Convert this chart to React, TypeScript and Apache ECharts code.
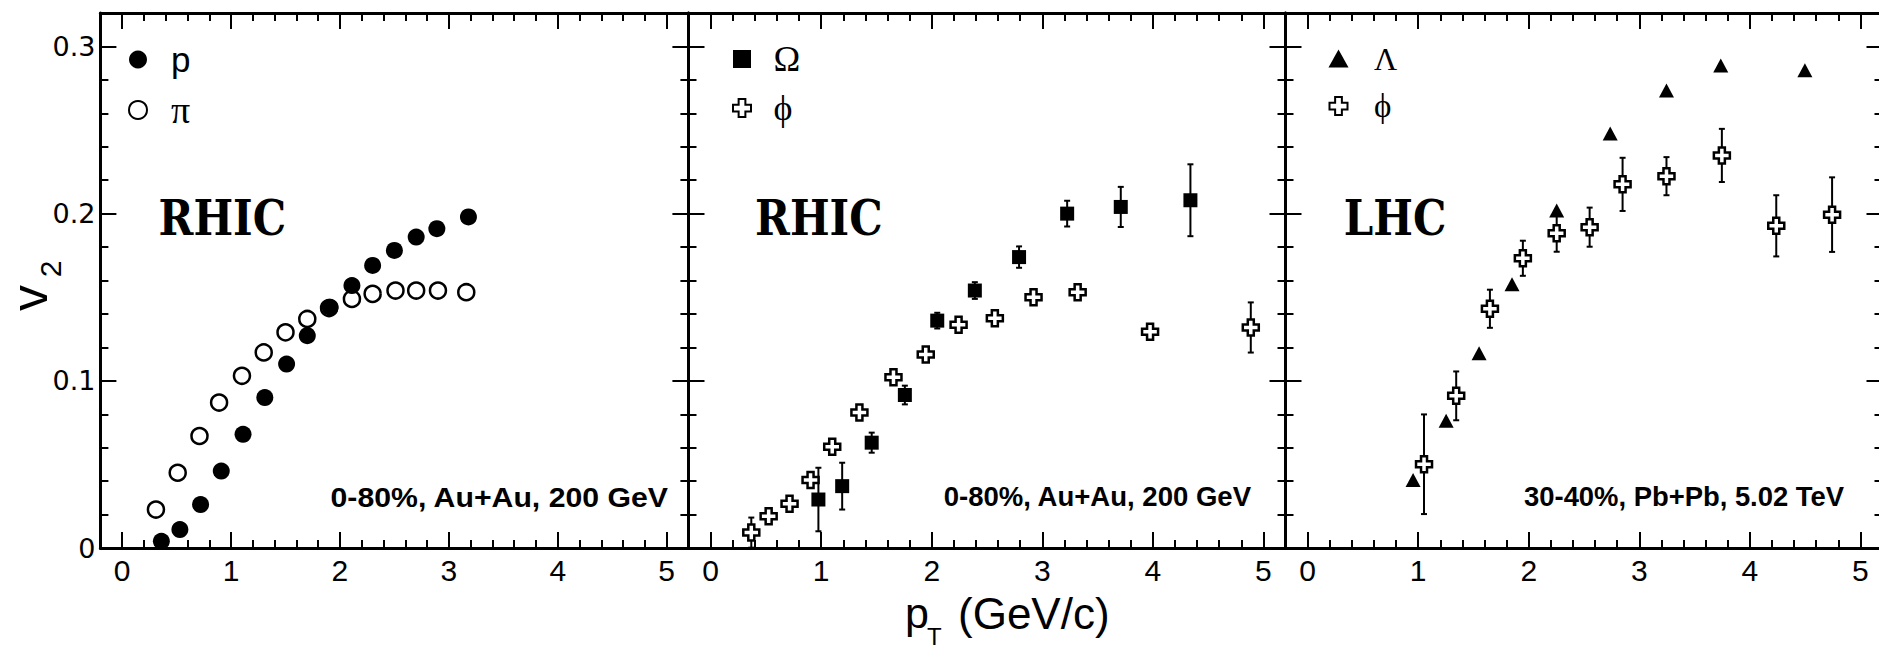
import React, { useEffect, useRef } from "react";
import * as echarts from "echarts";

// ---------- data ----------
// Panel 1 (RHIC): proton and pion v2
const pX = [0.36, 0.53, 0.72, 0.91, 1.11, 1.31, 1.51, 1.70, 1.91, 2.11, 2.30, 2.50, 2.70, 2.89, 3.18];
const pV = [0.004, 0.011, 0.026, 0.046, 0.068, 0.090, 0.110, 0.127, 0.144, 0.157, 0.169, 0.178, 0.186, 0.191, 0.198];
const piX = [0.31, 0.51, 0.71, 0.89, 1.10, 1.30, 1.50, 1.70, 1.90, 2.11, 2.30, 2.51, 2.70, 2.90, 3.16];
const piV = [0.023, 0.045, 0.067, 0.087, 0.103, 0.117, 0.129, 0.137, 0.1435, 0.149, 0.152, 0.154, 0.154, 0.154, 0.153];

// Panel 2 (RHIC): Omega and phi
const omegaX = [0.975, 1.19, 1.457, 1.757, 2.05, 2.39, 2.79, 3.225, 3.71, 4.34];
const omegaV = [0.029, 0.037, 0.063, 0.0915, 0.136, 0.154, 0.174, 0.200, 0.204, 0.208];
const omegaErr = [0.019, 0.014, 0.006, 0.0056, 0.0047, 0.005, 0.0064, 0.0077, 0.012, 0.0215];
const phiRX = [0.368, 0.525, 0.714, 0.904, 1.10, 1.346, 1.654, 1.946, 2.243, 2.571, 2.921, 3.32, 3.975, 4.886];
const phiRV = [0.0092, 0.019, 0.0265, 0.0407, 0.0605, 0.0811, 0.1022, 0.1158, 0.1336, 0.1374, 0.150, 0.153, 0.1294, 0.1319];
const phiRErr = [0.009, 0.004, 0.004, 0.004, 0.004, 0.004, 0.004, 0.004, 0.004, 0.004, 0.004, 0.004, 0.004, 0.015];

// Panel 3 (LHC): Lambda and phi
const lamX = [0.954, 1.253, 1.551, 1.849, 2.253, 2.737, 3.246, 3.737, 4.498];
const lamV = [0.0407, 0.0761, 0.1165, 0.1577, 0.2018, 0.248, 0.2737, 0.2886, 0.2857];
const phiLX = [1.053, 1.344, 1.649, 1.947, 2.253, 2.551, 2.849, 3.246, 3.747, 4.239, 4.744];
const phiLV = [0.0501, 0.091, 0.1431, 0.1733, 0.1882, 0.1919, 0.2175, 0.2224, 0.2348, 0.1927, 0.1994];
const phiLErr = [0.0298, 0.0146, 0.0114, 0.0105, 0.011, 0.0117, 0.0159, 0.0114, 0.0159, 0.0183, 0.0223];

// axes
const xMin = -0.2;
const xMax = 5.2;
const yMin = 0;
const yMax = 0.32;
const yInterval = 0.1;

// texts
const panelLabels = ["RHIC", "RHIC", "LHC"];
const systemLabels = ["0-80%, Au+Au, 200 GeV", "0-80%, Au+Au, 200 GeV", "30-40%, Pb+Pb, 5.02 TeV"];
const PHI = "\u03d5";

// ---------- layout / style ----------
const BLACK = "#000";
const SANS = "Liberation Sans";
const WIDE_SANS = "DejaVu Sans";
const SERIF = "Liberation Serif";
const SLAB = "DejaVu Serif";
const crossPath = "path://M5,0L11,0L11,5L16,5L16,11L11,11L11,16L5,16L5,11L0,11L0,5L5,5Z";
const squarePath = "path://M0,0L10,0L10,10L0,10Z";
const trianglePath = "path://M5,0L10,9L0,9Z";

const panels = [
  { left: 100.4, width: 588 },
  { left: 688.5, width: 597 },
  { left: 1285.5, width: 597 },
];
const gridTop = 13;
const gridHeight = 535;

const tickLine = { color: BLACK, width: 2 };

function isMultiple(v: number, step: number) {
  const r = Math.round(v / step) * step;
  return Math.abs(v - r) < 1e-6;
}

function makeXAxis(gi: number, pos: "bottom" | "top") {
  return {
    type: "value",
    gridIndex: gi,
    position: pos,
    min: xMin,
    max: xMax,
    splitNumber: 5,
    axisLine: { show: true, onZero: false, lineStyle: { color: BLACK, width: 3 } },
    axisTick: { show: true, inside: true, length: 16, lineStyle: tickLine },
    minorTick: { show: true, splitNumber: 5, length: 8, lineStyle: tickLine },
    splitLine: { show: false },
    minorSplitLine: { show: false },
    axisLabel:
      pos === "bottom"
        ? {
            show: true,
            margin: 7,
            fontSize: 30,
            fontFamily: SANS,
            color: BLACK,
            formatter: (v: number) => (isMultiple(v, 1) ? String(Math.round(v)) : ""),
          }
        : { show: false },
  };
}

function makeYAxis(gi: number, pos: "left" | "right", labels: boolean) {
  return {
    type: "value",
    gridIndex: gi,
    position: pos,
    min: yMin,
    max: yMax,
    interval: yInterval,
    axisLine: { show: true, onZero: false, lineStyle: { color: BLACK, width: 3 } },
    axisTick: { show: true, inside: true, length: 16, lineStyle: tickLine },
    minorTick: { show: true, splitNumber: 5, length: 8, lineStyle: tickLine },
    splitLine: { show: false },
    minorSplitLine: { show: false },
    axisLabel: labels
      ? {
          show: true,
          margin: 5,
          fontSize: 27,
          fontFamily: WIDE_SANS,
          color: BLACK,
          formatter: (v: number) => {
            if (!isMultiple(v, yInterval)) return "";
            const r = Math.round(v * 10) / 10;
            return r === 0 ? "0" : r.toFixed(1);
          },
        }
      : { show: false },
  };
}

function errSeries(name: string, gi: number, xs: number[], vs: number[], es: number[]) {
  return {
    type: "custom",
    name,
    xAxisIndex: gi * 2,
    yAxisIndex: gi * 2,
    clip: true,
    silent: true,
    data: xs.map((x, i) => [x, vs[i], es[i]]),
    encode: { x: 0, y: 1 },
    renderItem: (params: any, api: any) => {
      const x = api.value(0);
      const y = api.value(1);
      const e = api.value(2);
      const hi = api.coord([x, y + e]);
      const lo = api.coord([x, y - e]);
      const cap = 3;
      const style = { stroke: BLACK, lineWidth: 2 };
      return {
        type: "group",
        children: [
          { type: "line", shape: { x1: hi[0], y1: hi[1], x2: lo[0], y2: lo[1] }, style },
          { type: "line", shape: { x1: hi[0] - cap, y1: hi[1], x2: hi[0] + cap, y2: hi[1] }, style },
          { type: "line", shape: { x1: lo[0] - cap, y1: lo[1], x2: lo[0] + cap, y2: lo[1] }, style },
        ],
      };
    },
  };
}

function scatter(name: string, gi: number, xs: number[], vs: number[], symbol: string, size: any, itemStyle: any) {
  return {
    type: "scatter",
    name,
    xAxisIndex: gi * 2,
    yAxisIndex: gi * 2,
    symbol,
    symbolSize: size,
    itemStyle: { opacity: 1, ...itemStyle },
    silent: true,
    emphasis: { disabled: true },
    data: xs.map((x, i) => [x, vs[i]]),
  };
}

const filled = { color: BLACK };
const hollow = { color: "transparent", borderColor: BLACK, borderWidth: 2.5 };
const whiteCross = { color: "#fff", borderColor: BLACK, borderWidth: 2.5 };

function text(x: number, y: number, str: string, font: any, extra: any = {}) {
  return {
    type: "text",
    x,
    y,
    silent: true,
    z: 100,
    ...extra.el,
    style: {
      text: str,
      x: 0,
      y: 0,
      fill: BLACK,
      fontFamily: font.family,
      fontSize: font.size,
      fontWeight: font.weight || "normal",
      align: extra.align || "left",
      textAlign: extra.align || "left",
      verticalAlign: "middle",
      textVerticalAlign: "middle",
    },
  };
}

export default function App() {
  const ref = useRef<HTMLDivElement>(null);
  useEffect(() => {
    const chart = echarts.init(ref.current!, null, { renderer: "svg" });

    const legendBase = {
      orient: "vertical",
      padding: 0,
      itemHeight: 18,
      symbolKeepAspect: true,
      selectedMode: false,
      textStyle: { color: BLACK, lineHeight: 30 },
    };

    const option: any = {
      animation: false,
      backgroundColor: "#fff",
      grid: panels.map((p) => ({
        left: p.left,
        width: p.width,
        top: gridTop,
        height: gridHeight,
        containLabel: false,
        outerBoundsMode: "none",
      })),
      xAxis: [0, 1, 2].flatMap((g) => [makeXAxis(g, "bottom"), makeXAxis(g, "top")]),
      yAxis: [0, 1, 2].flatMap((g) => [makeYAxis(g, "left", g === 0), makeYAxis(g, "right", false)]),
      legend: [
        {
          ...legendBase,
          left: 128,
          top: 42,
          itemWidth: 56,
          itemGap: 14,
          data: [
            { name: "p", textStyle: { fontFamily: SANS, fontSize: 35 } },
            { name: "π", textStyle: { fontFamily: SERIF, fontSize: 38 } },
          ],
        },
        {
          ...legendBase,
          left: 732,
          top: 41,
          itemWidth: 53,
          itemGap: 13,
          data: [
            { name: "Ω", textStyle: { fontFamily: SERIF, fontSize: 36 } },
            { name: PHI, textStyle: { fontFamily: SERIF, fontSize: 36 } },
          ],
        },
        {
          ...legendBase,
          left: 1328.5,
          top: 42.5,
          itemWidth: 61,
          itemGap: 15,
          data: [
            { name: "Λ", textStyle: { fontFamily: SERIF, fontSize: 32 } },
            { name: PHI, textStyle: { fontFamily: SERIF, fontSize: 33 } },
          ],
        },
      ],
      series: [
        scatter("p", 0, pX, pV, "circle", 17, filled),
        scatter("π", 0, piX, piV, "circle", 16, hollow),

        errSeries("Ω err", 1, omegaX, omegaV, omegaErr),
        errSeries("ϕ err RHIC", 1, phiRX, phiRV, phiRErr),
        scatter("Ω", 1, omegaX, omegaV, squarePath, 14, filled),
        scatter(PHI, 1, phiRX, phiRV, crossPath, 16, whiteCross),

        errSeries("ϕ err LHC", 2, phiLX, phiLV, phiLErr),
        scatter("Λ", 2, lamX, lamV, trianglePath, [15, 14], filled),
        scatter(PHI, 2, phiLX, phiLV, crossPath, 16, whiteCross),
      ],
      graphic: [
        text(158.5, 218, panelLabels[0], { family: SLAB, size: 42, weight: "bold" }, { el: { scaleY: 1.15 } }),
        text(755, 218, panelLabels[1], { family: SLAB, size: 42, weight: "bold" }, { el: { scaleY: 1.15 } }),
        text(1343.8, 218, panelLabels[2], { family: SLAB, size: 42, weight: "bold" }, { el: { scaleY: 1.15 } }),
        text(668, 497.5, systemLabels[0], { family: SANS, size: 27, weight: "bold" }, { align: "right", el: { scaleX: 1.12 } }),
        text(1251, 497, systemLabels[1], { family: SANS, size: 27, weight: "bold" }, { align: "right", el: { scaleX: 1.02 } }),
        text(1844, 497, systemLabels[2], { family: SANS, size: 27, weight: "bold" }, { align: "right", el: { scaleX: 1.015 } }),
        // x-axis title p_T (GeV/c)
        text(905, 613, "p", { family: SANS, size: 43 }),
        text(927, 636, "T", { family: SANS, size: 24 }),
        text(958, 613, "(GeV/c)", { family: SANS, size: 44 }),
        // y-axis title v_2 (rotated)
        text(29, 298, "v", { family: SANS, size: 52 }, { align: "center", el: { rotation: Math.PI / 2 } }),
        text(50, 269, "2", { family: SANS, size: 30 }, { align: "center", el: { rotation: Math.PI / 2 } }),
      ],
    };

    chart.setOption(option);
    return () => chart.dispose();
  }, []);

  return (
    <div
      ref={ref}
      style={{ position: "fixed", left: 0, top: 0, width: 1879, height: 650, background: "#fff" }}
    />
  );
}
